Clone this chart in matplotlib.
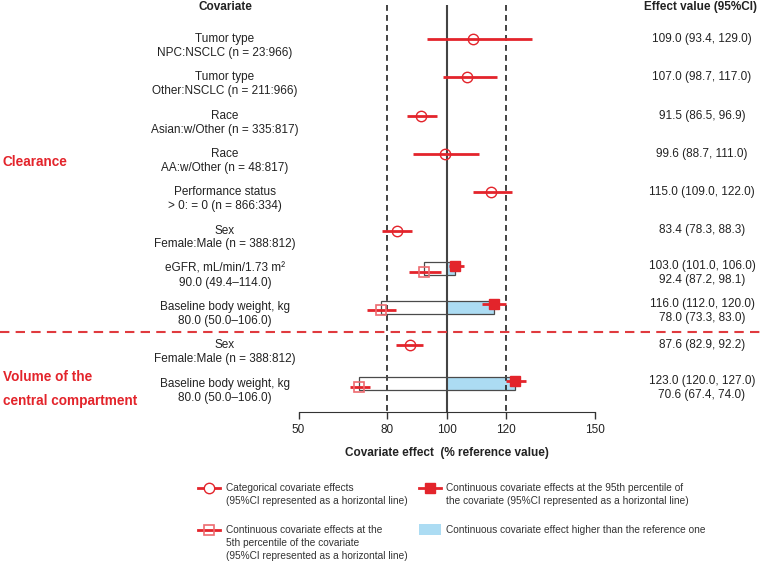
import matplotlib
matplotlib.use("Agg")
import matplotlib.pyplot as plt
from matplotlib.lines import Line2D
from matplotlib.patches import Rectangle
from matplotlib.transforms import blended_transform_factory

plt.rcParams['font.family'] = ['Liberation Sans', 'DejaVu Sans']

# covariate labels, one row each (top to bottom)
cov_names = ["Tumor type", "Tumor type", "Race", "Race", "Performance status", "Sex",
             "eGFR, mL/min/1.73 m²", "Baseline body weight, kg",
             "Sex", "Baseline body weight, kg"]
cov_levels = ["NPC:NSCLC (n = 23:966)", "Other:NSCLC (n = 211:966)",
              "Asian:w/Other (n = 335:817)", "AA:w/Other (n = 48:817)",
              "> 0: = 0 (n = 866:334)", "Female:Male (n = 388:812)",
              "90.0 (49.4–114.0)", "80.0 (50.0–106.0)",
              "Female:Male (n = 388:812)", "80.0 (50.0–106.0)"]

# categorical covariates
cat_rows = [0, 1, 2, 3, 4, 5, 8]
cat_est = [109.0, 107.0, 91.5, 99.6, 115.0, 83.4, 87.6]
cat_lo = [93.4, 98.7, 86.5, 88.7, 109.0, 78.3, 82.9]
cat_hi = [129.0, 117.0, 96.9, 111.0, 122.0, 88.3, 92.2]

# continuous covariates, 95th and 5th percentile
cont_rows = [6, 7, 9]
p95_est = [103.0, 116.0, 123.0]
p95_lo = [101.0, 112.0, 120.0]
p95_hi = [106.0, 120.0, 127.0]
p5_est = [92.4, 78.0, 70.6]
p5_lo = [87.2, 73.3, 67.4]
p5_hi = [98.1, 83.0, 74.0]

xticks = [50, 80, 100, 120, 150]

RED = '#e3242b'
RED_LIGHT = '#ee6b70'
BLUE = '#acdcf3'
GREY = '#4a4a4a'

W, H = 763, 562
ROW0, STEP = 39, 38.3   # pixel of first row, pixels per row


def fx(px):
    return px / W


def fy(py):
    return 1 - py / H


fig = plt.figure(figsize=(W / 100, H / 100), dpi=100)
ax = fig.add_axes([fx(298.5), fy(412), 296 / W, 412 / H])
ax.set_xlim(50, 150)
ax.set_ylim((412 - ROW0) / STEP, -ROW0 / STEP)

off = 3 / STEP
box_h = 13 / STEP
top_y = (5 - ROW0) / STEP
bot_y = (412 - ROW0) / STEP

# boxes for continuous covariates
ax.barh(cont_rows, [h - 100 for h in p95_est], left=100, height=box_h,
        color=BLUE, lw=0, zorder=1)
ax.barh(cont_rows, [a - b for a, b in zip(p95_est, p5_est)], left=p5_est,
        height=box_h, fill=False, edgecolor=GREY, lw=0.9, zorder=3)

# reference lines
ax.vlines([80, 120], top_y, bot_y, colors='#222222', linestyles=(0, (3.5, 2.5)),
          lw=1.2, zorder=2)
ax.vlines(100, top_y, bot_y, colors='#444444', lw=1.5, zorder=2)

# categorical effects
ax.hlines(cat_rows, cat_lo, cat_hi, color=RED, lw=2, zorder=4)
ax.plot(cat_est, cat_rows, 'o', ms=7.5, mfc='none', mec=RED, mew=1, zorder=5)

# continuous effects
r95 = [r - off for r in cont_rows]
r5 = [r + off for r in cont_rows]
ax.hlines(r5, p5_lo, p5_hi, color=RED, lw=2, zorder=4)
ax.plot(p5_est, r5, 's', ms=7, mfc='none', mec=RED_LIGHT, mew=1.2, zorder=5)
ax.hlines(r95, p95_lo, p95_hi, color=RED, lw=2, zorder=4)
ax.plot(p95_est, r95, 's', ms=7, color=RED, zorder=6)

for s in ['left', 'top', 'right']:
    ax.spines[s].set_visible(False)
ax.spines['bottom'].set_bounds(50, 150)
ax.spines['bottom'].set_color('#333333')
ax.set_yticks([])
ax.set_xticks(xticks)
ax.set_xticklabels([str(t) for t in xticks])
ax.tick_params(axis='x', direction='out', length=5, width=1, color='#333333',
               labelsize=8.5, labelcolor='#222222', pad=3.5)
ax.set_xlabel("Covariate effect  (% reference value)", fontsize=8.5,
              fontweight='bold', color='#222222', labelpad=8)
for a in ax.get_children():
    if hasattr(a, 'set_clip_on'):
        a.set_clip_on(False)

# separator between clearance and volume
trans = blended_transform_factory(fig.transFigure, ax.transData)
sep_y = (332 - ROW0) / STEP
fig.add_artist(Line2D([0, 1], [sep_y, sep_y], transform=trans, color='#e03a3e',
                      lw=1.5, ls=(0, (4.5, 3))))

# text columns
lg = 14 / STEP
hdr_y = (7 - ROW0) / STEP
ax.text(fx(225), hdr_y, "Covariate", transform=trans, ha='center', va='center',
        fontsize=8.5, fontweight='bold', color='#222222')
ax.text(fx(700), hdr_y, "Effect value (95%CI)", transform=trans, ha='center',
        va='center', fontsize=8.5, fontweight='bold', color='#222222')

for i, (n, lv) in enumerate(zip(cov_names, cov_levels)):
    ax.text(fx(225), i, n, transform=trans, ha='center', va='center',
            fontsize=8.5, color='#222222')
    ax.text(fx(225), i + lg, lv, transform=trans, ha='center', va='center',
            fontsize=8.5, color='#222222')

for r, e, lo, hi in zip(cat_rows, cat_est, cat_lo, cat_hi):
    ax.text(fx(702), r, f"{e:.1f} ({lo:.1f}, {hi:.1f})", transform=trans,
            ha='center', va='center', fontsize=8.5, color='#222222')
for k, r in enumerate(cont_rows):
    ax.text(fx(702), r - off, f"{p95_est[k]:.1f} ({p95_lo[k]:.1f}, {p95_hi[k]:.1f})",
            transform=trans, ha='center', va='center', fontsize=8.5, color='#222222')
    ax.text(fx(702), r - off + lg, f"{p5_est[k]:.1f} ({p5_lo[k]:.1f}, {p5_hi[k]:.1f})",
            transform=trans, ha='center', va='center', fontsize=8.5, color='#222222')

fig.text(fx(3), fy(162), "Clearance", ha='left', va='center', fontsize=9.8,
         fontweight='bold', color=RED)
fig.text(fx(3), fy(377), "Volume of the", ha='left', va='center', fontsize=9.8,
         fontweight='bold', color=RED)
fig.text(fx(3), fy(401), "central compartment", ha='left', va='center', fontsize=9.8,
         fontweight='bold', color=RED)


# legend, drawn by hand
def legend_text(x, y, lines):
    for k, s in enumerate(lines):
        fig.text(fx(x), fy(y + 13 * k), s, ha='left', va='center', fontsize=7.3,
                 color='#333333')


def legend_line(x, y, marker, **kw):
    fig.add_artist(Line2D([fx(x - 11), fx(x + 11)], [fy(y), fy(y)],
                          transform=fig.transFigure, color=RED, lw=2))
    fig.add_artist(Line2D([fx(x)], [fy(y)], transform=fig.transFigure,
                          marker=marker, ls='none', **kw))


legend_line(209, 488, 'o', ms=7.5, mfc='white', mec=RED, mew=1)
legend_text(226, 488, ["Categorical covariate effects",
                       "(95%CI represented as a horizontal line)"])
legend_line(209, 530, 's', ms=7, mfc='none', mec=RED_LIGHT, mew=1.2)
legend_text(226, 530, ["Continuous covariate effects at the",
                       "5th percentile of the covariate",
                       "(95%CI represented as a horizontal line)"])
legend_line(430, 488, 's', ms=7, color=RED)
legend_text(446, 488, ["Continuous covariate effects at the 95th percentile of",
                       "the covariate (95%CI represented as a horizontal line)"])
fig.add_artist(Rectangle((fx(419), fy(535)), 22 / W, 11 / H, transform=fig.transFigure,
                         color=BLUE, lw=0))
legend_text(446, 530, ["Continuous covariate effect higher than the reference one"])

fig.savefig("out.png", dpi=100)
